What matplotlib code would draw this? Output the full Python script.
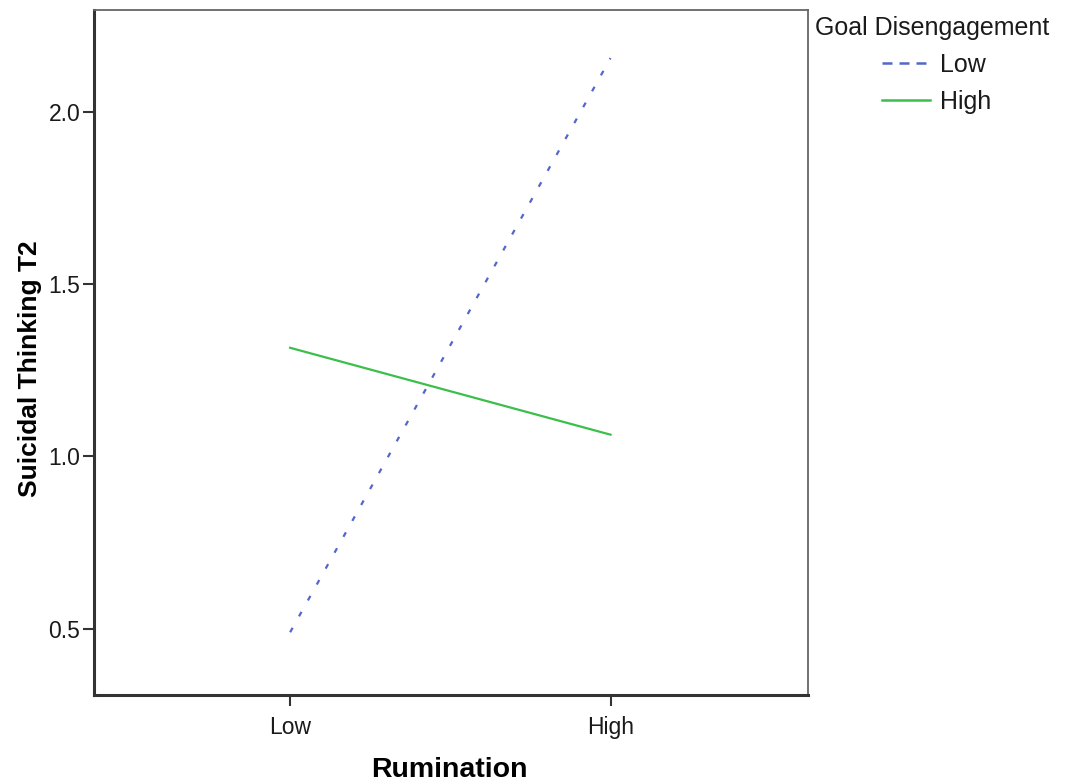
import matplotlib.pyplot as plt
from matplotlib.lines import Line2D

plt.rcParams['font.family'] = ['Liberation Sans', 'DejaVu Sans']

# 数据
rumination = ["Low", "High"]
low_gd = [0.49, 2.155]    # Goal Disengagement = Low
high_gd = [1.315, 1.063]  # Goal Disengagement = High
y_ticks = [0.5, 1.0, 1.5, 2.0]
legend_title = "Goal Disengagement"
legend_labels = ["Low", "High"]

blue = "#5266cc"
green = "#3cbf4a"

fig = plt.figure(figsize=(10.65, 7.84), dpi=100)
ax = fig.add_axes([0.0883, 0.1135, 0.6700, 0.8735])

x = list(range(len(rumination)))
ax.plot(x, low_gd, linestyle=(0, (2.3, 5.9)), color=blue, lw=1.6)
ax.plot(x, high_gd, linestyle="-", color=green, lw=1.6)

ax.set_xlim(-0.612, 1.615)
ax.set_ylim(0.308, 2.294)
ax.set_xticks(x)
ax.set_xticklabels(rumination)
ax.set_yticks(y_ticks)
ax.set_yticklabels([f"{v:.1f}" for v in y_ticks])
ax.tick_params(labelsize=16.5, colors="#333333", length=8, width=1.5, labelcolor="#1a1a1a")
ax.tick_params(axis="x", pad=7)
ax.tick_params(axis="y", pad=2)

for side in ["left", "bottom"]:
    ax.spines[side].set_linewidth(2.2)
    ax.spines[side].set_color("#333333")
for side in ["top", "right"]:
    ax.spines[side].set_linewidth(1.3)
    ax.spines[side].set_color("#666666")

ax.set_xlabel("Rumination", fontsize=20.5, fontweight="bold", va="center")
ax.xaxis.set_label_coords(0.4986, -0.11)
ax.set_ylabel("Suicidal Thinking T2", fontsize=19, fontweight="bold", va="center")
ax.yaxis.set_label_coords(-0.09, 0.476)

# 图例：标题左对齐，条目缩进
fig.text(815 / 1065, 1 - 28 / 784, legend_title, fontsize=18, va="center", ha="left",
         color="#1a1a1a")
handles = [Line2D([], [], color=blue, lw=1.8, linestyle=(0, (4.0, 2.8))),
           Line2D([], [], color=green, lw=1.8)]
leg = fig.legend(handles, legend_labels, loc="upper left",
                 bbox_to_anchor=(882 / 1065, 1 - 53 / 784), bbox_transform=fig.transFigure,
                 frameon=False, fontsize=18, handlelength=1.9, handletextpad=0.4,
                 labelspacing=0.5, borderpad=0, borderaxespad=0)
for t in leg.get_texts():
    t.set_color("#1a1a1a")

fig.savefig("out.png", dpi=100)
